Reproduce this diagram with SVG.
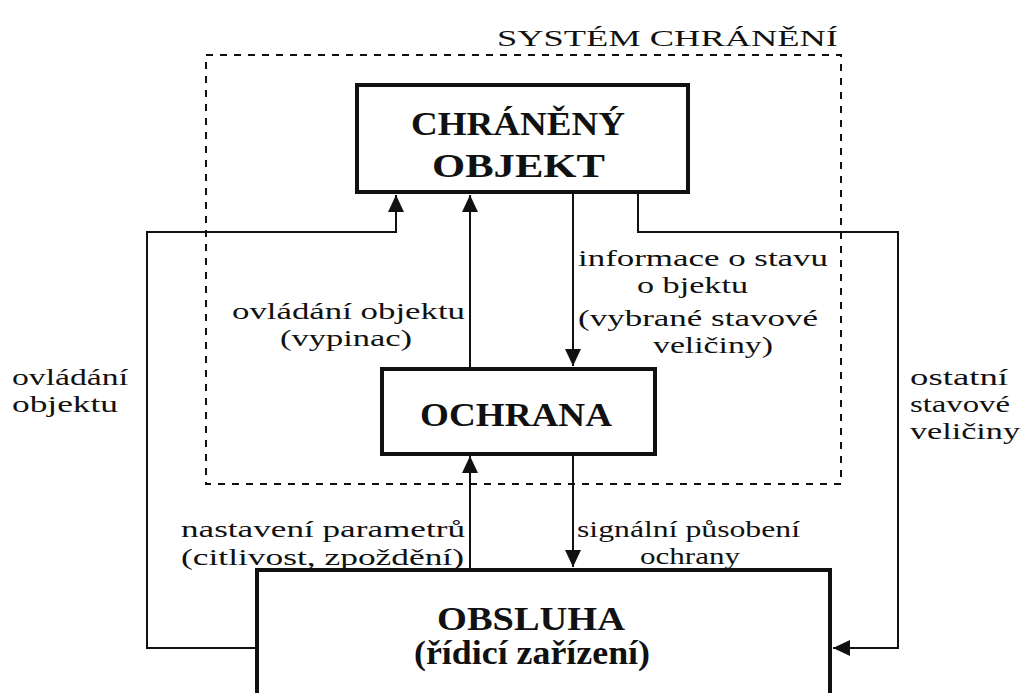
<svg xmlns="http://www.w3.org/2000/svg" width="1022" height="693" viewBox="0 0 1022 693">
<defs>
<style>
.t{font-family:"Liberation Serif","DejaVu Serif",serif;font-size:24px;fill:#111;}
.b{font-family:"Liberation Serif","DejaVu Serif",serif;font-size:34px;font-weight:bold;fill:#111;}
.box{fill:#fff;stroke:#111;stroke-width:4;}
.ln{fill:none;stroke:#111;stroke-width:2;}
</style>
<marker id="ah" viewBox="0 0 17 16" refX="17" refY="8" markerWidth="17" markerHeight="16" markerUnits="userSpaceOnUse" orient="auto">
<path d="M0,0 L17,8 L0,16 Z" fill="#111"/>
</marker>
</defs>
<rect width="1022" height="693" fill="#fff"/>
<g id="system">
<rect x="206" y="55" width="635" height="429" fill="none" stroke="#111" stroke-width="2" stroke-dasharray="7 7"/>
<text class="t" x="497" y="46" font-size="34" textLength="341" lengthAdjust="spacingAndGlyphs">SYSTÉM  CHRÁNĚNÍ</text>
</g>
<g id="connectors">
<path class="ln" d="M257,648 H147 V232 H396 V195" marker-end="url(#ah)"/>
<path class="ln" d="M470,369 V195" marker-end="url(#ah)"/>
<path class="ln" d="M573,192 V366" marker-end="url(#ah)"/>
<path class="ln" d="M638,192 V232 H898 V648 H833" marker-end="url(#ah)"/>
<path class="ln" d="M470,568 V456" marker-end="url(#ah)"/>
<path class="ln" d="M573,455 V567" marker-end="url(#ah)"/>
</g>
<g id="labels">
<text class="t" x="12" y="385" textLength="116" lengthAdjust="spacingAndGlyphs">ovládání</text>
<text class="t" x="12" y="412" textLength="106" lengthAdjust="spacingAndGlyphs">objektu</text>
<text class="t" x="232" y="319" textLength="233" lengthAdjust="spacingAndGlyphs">ovládání objektu</text>
<text class="t" x="280" y="346" textLength="132" lengthAdjust="spacingAndGlyphs">(vypinac)</text>
<text class="t" x="578" y="266" textLength="250" lengthAdjust="spacingAndGlyphs">informace o stavu</text>
<text class="t" x="637" y="293" textLength="111" lengthAdjust="spacingAndGlyphs">o bjektu</text>
<text class="t" x="578" y="326" textLength="240" lengthAdjust="spacingAndGlyphs">(vybrané stavové</text>
<text class="t" x="653" y="353" textLength="120" lengthAdjust="spacingAndGlyphs">veličiny)</text>
<text class="t" x="910" y="385" textLength="98" lengthAdjust="spacingAndGlyphs">ostatní</text>
<text class="t" x="910" y="412" textLength="100" lengthAdjust="spacingAndGlyphs">stavové</text>
<text class="t" x="910" y="439" textLength="110" lengthAdjust="spacingAndGlyphs">veličiny</text>
<text class="t" x="181" y="537" textLength="284" lengthAdjust="spacingAndGlyphs">nastavení parametrů</text>
<text class="t" x="181" y="565" textLength="283" lengthAdjust="spacingAndGlyphs">(citlivost, zpoždění)</text>
<text class="t" x="577" y="537" textLength="223" lengthAdjust="spacingAndGlyphs">signální působení</text>
<text class="t" x="640" y="564" textLength="100" lengthAdjust="spacingAndGlyphs">ochrany</text>
</g>
<g id="chraneny-objekt">
<rect class="box" x="357" y="85" width="331" height="107"/>
<text class="b" x="411" y="135" textLength="214" lengthAdjust="spacingAndGlyphs">CHRÁNĚNÝ</text>
<text class="b" x="432" y="177" textLength="173" lengthAdjust="spacingAndGlyphs">OBJEKT</text>
</g>
<g id="ochrana">
<rect class="box" x="382" y="369" width="273" height="85"/>
<text class="b" x="420" y="426" textLength="192" lengthAdjust="spacingAndGlyphs">OCHRANA</text>
</g>
<g id="obsluha">
<rect class="box" x="257" y="570" width="573" height="130"/>
<text class="b" x="437" y="630" textLength="188" lengthAdjust="spacingAndGlyphs">OBSLUHA</text>
<text class="b" x="414" y="664" font-size="26" textLength="236" lengthAdjust="spacingAndGlyphs">(řídicí zařízení)</text>
</g>
</svg>
